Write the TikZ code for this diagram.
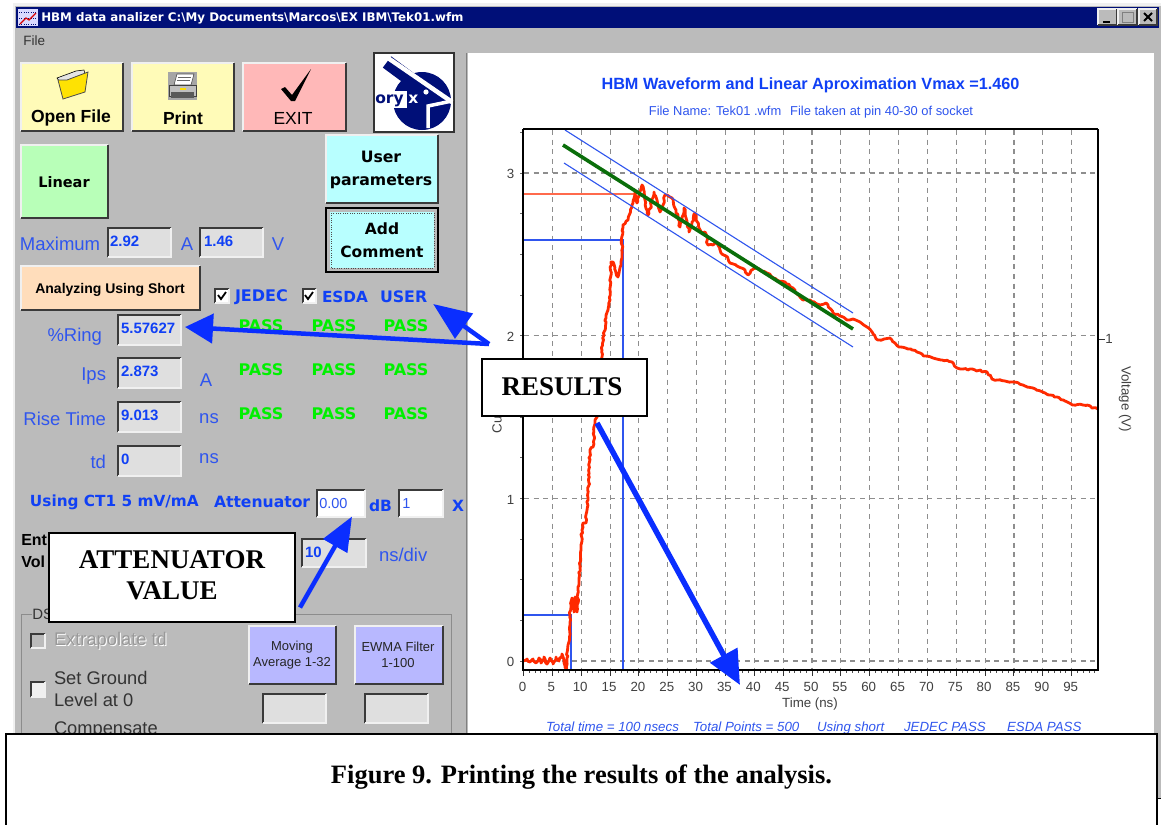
\documentclass[tikz,border=0pt]{standalone}
\usepackage{fontspec}
\setmainfont{Liberation Sans}
\newfontfamily\serifb{Liberation Serif}
\newfontfamily\wide{DejaVu Sans}
\usetikzlibrary{arrows.meta,decorations.pathmorphing}
\newdimen\px \px=0.75pt
\newcommand\fpx[1]{\fontsize{\the\dimexpr#1\px\relax}{\the\dimexpr#1\px*6/5\relax}\selectfont}
\definecolor{wingray}{HTML}{BBBBBB}
\definecolor{titleblue}{HTML}{000F78}
\definecolor{cyellow}{HTML}{FFFBB8}
\definecolor{cpink}{HTML}{FFB8B8}
\definecolor{cgreen}{HTML}{B8FFB8}
\definecolor{ccyan}{HTML}{B8FFFF}
\definecolor{corange}{HTML}{FFDDBB}
\definecolor{clav}{HTML}{B8B8FF}
\definecolor{cinput}{HTML}{DFDFDF}
\definecolor{lblue}{HTML}{2F55EE}
\definecolor{vblue}{HTML}{1040F5}
\definecolor{abblue}{HTML}{0A2EFF}
\definecolor{cpass}{HTML}{00F000}
\definecolor{wred}{HTML}{FF2A00}
\definecolor{wgreen}{HTML}{0A6E0A}
\definecolor{gridc}{HTML}{8E8E8E}
\definecolor{navy}{HTML}{000F78}
\definecolor{bevd}{HTML}{3A3A3A}
\definecolor{bevl}{HTML}{F0F0F0}
\tikzset{
  panelbox/.style={inner sep=0pt,outer sep=0pt,draw=none},
  lbl/.style={inner sep=0pt,outer sep=0pt,text=lblue,font=\fpx{18.5}},
  val/.style={inner sep=0pt,outer sep=0pt,anchor=west,text=vblue,font=\bfseries\fpx{15}},
  bold/.style={inner sep=0pt,outer sep=0pt,text=black,font=\bfseries\fpx{17.5},align=center},
  passlbl/.style={inner sep=0pt,outer sep=0pt,text=cpass,font=\wide\bfseries\fpx{16}},
  headlbl/.style={inner sep=0pt,outer sep=0pt,anchor=west,text=vblue,font=\wide\bfseries\fpx{#1}},
  headlbl/.default=15.5,
  tiny/.style={inner sep=0pt,outer sep=0pt,text=black!75,font=\fpx{13.3}},
  noteb/.style={draw=black,line width=2\px,fill=white,inner sep=0pt,outer sep=0pt,align=center,font=\serifb\bfseries\fpx{27}},
  gridl/.style={draw=gridc,line width=1.1\px,dash pattern=on 5\px off 4.6\px},
  blk/.style={draw=black,line width=2.4\px},
  thinb/.style={draw=lblue,line width=1.1\px},
  bigarrow/.style={draw=abblue,fill=abblue,line width=#1\px},
  sysl/.style={inner sep=0pt,outer sep=0pt,anchor=west,text=black!80,font=\fpx{18.3}},
  footl/.style={inner sep=0pt,outer sep=0pt,anchor=base west,text=lblue,font=\itshape\fpx{13.3}},
}
\newcommand\panel[6]{\node[panelbox,fill=#6,minimum width={(#4-#2)*0.75},minimum height={(#5-#3)*0.75}] (#1) at ({(#2+#4)/2},{(#3+#5)/2}) {};}
\newcommand\raisededge[1]{%
  \draw[bevl,line width=1.6\px] (#1.south west)--(#1.north west)--(#1.north east);
  \draw[bevd,line width=1.6\px] (#1.north east)--(#1.south east)--(#1.south west);}
\newcommand\sunkenedge[1]{%
  \draw[bevd,line width=1.6\px] (#1.south west)--(#1.north west)--(#1.north east);
  \draw[bevl,line width=1.6\px] (#1.north east)--(#1.south east)--(#1.south west);}
\newcommand\rbtn[6]{\panel{#1}{#2}{#3}{#4}{#5}{#6}\raisededge{#1}}
\newcommand\sunk[6]{\panel{#1}{#2}{#3}{#4}{#5}{#6}\sunkenedge{#1}}
\begin{document}
\begin{tikzpicture}[x=0.75pt,y=-0.75pt,line join=miter]
\pgfmathsetseed{17}
\useasboundingbox (0,0) rectangle (1161,825);
\fill[white] (0,0) rectangle (1161,825);
% window
\fill[wingray] (13,3) rectangle (1161,800);
\draw[bevl,line width=2.5\px] (14,800)--(14,4.5)--(1161,4.5);
\fill[titleblue] (16,7) rectangle (1159,28);
% title icon
\fill[white!85!blue] (18,9) rectangle (38,26);
\draw[navy,densely dotted,line width=1\px] (19,12)--(37,12) (19,18)--(37,18) (19,24)--(37,24);
\draw[red!85!black,line width=1.2\px] (20,24)--(26,18)--(29,20)--(36,13);
\node[inner sep=0pt,anchor=west,text=white,font=\wide\bfseries\fpx{11.85}] (wintitle) at (41,18) {HBM data analizer C:\textbackslash My Documents\textbackslash Marcos\textbackslash EX IBM\textbackslash Tek01.wfm};
% title buttons
\rbtn{bmin}{1098}{9}{1117}{25}{wingray}
\draw[black,line width=2\px] (1103,22)--(1110,22);
\rbtn{bmax}{1118}{9}{1137}{25}{wingray}
\draw[gray,line width=1\px] (1122,12) rectangle (1133,22);
\rbtn{bclose}{1139}{9}{1157}{25}{wingray}
\draw[black,line width=2\px] (1144,13)--(1152,21) (1152,13)--(1144,21);
\node[inner sep=0pt,anchor=west,text=black!80,font=\fpx{13.5}] (menufile) at (23,41) {File};
% plot area
\draw[black!50,line width=1.2\px] (466.5,53)--(466.5,735);
\fill[white] (468,53) rectangle (1154,735);
% toolbar
\rbtn{openb}{21}{63}{123}{131}{cyellow}
\rbtn{printb}{132}{63}{234}{131}{cyellow}
\rbtn{exitb}{243}{63}{346}{131}{cpink}
\node[bold] (openl) at (71,118) {Open File};
\node[bold] (printl) at (183,118) {Print};
\node[bold,font=\fpx{17.5}] (exitl) at (293,118) {EXIT};
% folder icon
\fill[white!90!black,draw=black,line width=.6\px] (57,78)--(76,71)--(84,70)--(86,78)--(64,88)--cycle;
\fill[yellow!85!orange,draw=black!70,line width=.8\px] (58,80)--(67,80)--(88,72)--(85,92)--(63,99)--cycle;
% printer icon
\fill[black!35] (168,72) rectangle (197,100);
\fill[white,draw=black!70,line width=.6\px] (177,74)--(194,74)--(191,85)--(174,85)--cycle;
\draw[black!60,line width=.8\px] (178,77)--(191,77) (177,80)--(190,80);
\fill[black!25,draw=black!75,line width=.8\px] (169,85) rectangle (196,96);
\fill[black!65] (171,92) rectangle (194,98);
\fill[yellow!80!orange] (180,88) rectangle (186,90);
% check mark
\fill[black] (281,89)--(285,87)--(292,95)--(311,69)--(295,101)--(291,101)--cycle;
% logo
\node[panelbox,fill=white,draw=black!80,line width=1.2\px,minimum width=60,minimum height=59.25] (logo) at (414,92.5) {};
\fill[navy] (422,101) circle [radius=29];
\fill[white] (374.6,91) rectangle (407,108);
\draw[navy,line width=14\px] (387,62)--(410,79);
\draw[white,line width=4.5\px] (388,58)--(452,102);
\draw[white,line width=3.5\px] (428,128)--(428,106)--(452,101);
\fill[white] (426,92) circle [radius=2.6];
\node[inner sep=0pt,anchor=base west,text=navy,font=\wide\bfseries\fpx{15.5}] (logoa) at (375,103) {ory};
\node[inner sep=0pt,anchor=base west,text=white,font=\wide\bfseries\fpx{15.5}] (logob) at (408,103) {x};
% left buttons
\rbtn{linearb}{21}{145}{108}{218}{cgreen}
\node[bold,font=\wide\bfseries\fpx{14.5}] (linearl) at (64,182) {Linear};
\rbtn{userb}{326}{135}{438}{203}{ccyan}
\node[bold,font=\wide\bfseries\fpx{15.7}] (userl) at (381,170) {User\\[4\px]parameters};
\panel{addb}{326}{208}{438}{272}{ccyan}
\draw[wingray,line width=3\px] (328.5,210.5) rectangle (435.5,269.5);
\draw[black,line width=2\px] (addb.north west) rectangle (addb.south east);
\draw[black!70,densely dotted,line width=1\px] (331,213) rectangle (434,268);
\node[bold,font=\wide\bfseries\fpx{15.5}] (addl) at (382,240) {Add\\[4\px]Comment};
\node[lbl,anchor=west] (maxl) at (20,244) {Maximum};
\sunk{maxa}{108}{228}{171}{257}{cinput}
\node[val] (maxav) at (110,241) {2.92};
\node[lbl] (al) at (187,244) {A};
\sunk{maxv}{200}{228}{263}{257}{cinput}
\node[val] (maxvv) at (204,241) {1.46};
\node[lbl] (vl) at (278,244) {V};
\rbtn{analb}{21}{266}{200}{310}{corange}
\node[bold,font=\bfseries\fpx{14}] (anall) at (110,290) {Analyzing Using Short};
% check boxes
\sunk{cka}{215}{289}{229}{303}{white}
\draw[black,line width=1.8\px] (218,295)--(221,299)--(226,292);
\node[headlbl=16] (jedec) at (235,297) {JEDEC};
\sunk{ckb}{303}{289}{316}{303}{white}
\draw[black,line width=1.8\px] (305,295)--(308,299)--(313,292);
\node[headlbl=15.3] (esda) at (322,297) {ESDA};
\node[headlbl=15.8] (user) at (380,297) {USER};
% results table
\foreach \nm/\ya/\yb/\yc/\lb/\vl/\lx in {ring/315/345/336.5/{\%Ring}/5.57627/102, ips/358/388/376/{Ips}/2.873/106, rise/402/432/419/{Rise Time}/9.013/106, td/446/476/462/{td}/0/106}{
  \sunk{\nm}{118}{\ya}{181}{\yb}{cinput}
  \node[lbl,anchor=east] (\nm l) at (\lx,\yc) {\lb};
  \node[val] (\nm v) at (121,{\ya+13}) {\vl};
}
\node[lbl] (ua) at (206,380) {A};
\node[lbl] (uns) at (209,419) {ns};
\node[lbl] (utd) at (209,459) {ns};
\foreach \yy in {326,370,414}{
  \node[passlbl] (pa\yy) at (261,\yy) {PASS};
  \node[passlbl] (pb\yy) at (334,\yy) {PASS};
  \node[passlbl] (pc\yy) at (406,\yy) {PASS};
}
% attenuator row
\node[headlbl=15.3] (usingct) at (30,502) {Using CT1 5 mV/mA};
\node[headlbl=15.6] (attl) at (214,502) {Attenuator};
\sunk{attbox}{317}{490}{365}{517}{white}
\node[inner sep=0pt,anchor=west,text=lblue,font=\fpx{14.5}] (attv) at (319,504) {0.00};
\node[headlbl=15.5] (dbl) at (369,506) {dB};
\sunk{xbox}{399}{490}{443}{517}{white}
\node[inner sep=0pt,anchor=west,text=lblue,font=\fpx{14.5}] (xv) at (402,504) {1};
\node[headlbl=15.5] (xl) at (452,506) {X};
\node[inner sep=0pt,anchor=west,font=\bfseries\fpx{16}] (entl) at (21,540) {Ent};
\node[inner sep=0pt,anchor=west,font=\bfseries\fpx{16}] (voll) at (21,562) {Vol};
\sunk{nsbox}{302}{539}{366}{567}{cinput}
\node[val] (nsv) at (305,552) {10};
\node[lbl,anchor=west] (nsl) at (379,555) {ns/div};
% DSP group
\draw[black!45,line width=1.1\px] (21.5,740)--(21.5,614.5)--(451.5,614.5)--(451.5,740);
\node[inner sep=0pt,anchor=west,text=black!80,font=\fpx{15},fill=wingray] (dsl) at (32,614) {DS};
\sunk{ckc}{31}{634}{45}{648}{wingray}
\node[sysl,text=white] (extw) at (55,642) {Extrapolate td};
\node[sysl,text=black!40] (extl) at (54,641) {Extrapolate td};
\sunk{ckd}{31}{682}{45}{697}{bevl}
\node[sysl] (gnd1) at (54,678) {Set Ground};
\node[sysl] (gnd2) at (54,700) {Level at 0};
\node[sysl] (compl) at (54,730) {Compensate};
\rbtn{mavg}{249}{626}{336}{684}{clav}
\node[inner sep=0pt,align=center,text=black!85,font=\fpx{13}] (mavgl) at (292,655) {Moving\\[1\px]Average 1-32};
\rbtn{ewma}{355}{626}{443}{684}{clav}
\node[inner sep=0pt,align=center,text=black!85,font=\fpx{13}] (ewmal) at (398,655) {EWMA Filter\\[1\px]1-100};
\sunk{mavgb}{263}{694}{326}{723}{cinput}
\sunk{ewmab}{365}{694}{428}{723}{cinput}
% plot titles
\node[inner sep=0pt,text=vblue,font=\bfseries\fpx{16.25}] (ptitle) at (810.5,85.5) {HBM Waveform and Linear Aproximation Vmax =1.460};
\node[inner sep=0pt,text=lblue,font=\fpx{12.9}] (psub) at (811,112.5) {File Name: Tek01 .wfm\hspace{9\px}File taken at pin 40-30 of socket};
% grid
\foreach \tt in {5,10,...,95}{
  \draw[gridl] ({523.5+5.77*\tt},130)--({523.5+5.77*\tt},669);
  \node[tiny] (xl\tt) at ({522.5+5.77*\tt},687) {\tt};
}
\node[tiny] (x0) at (522.5,687) {0};
\foreach \yy/\lb in {661/0,498.7/1,335.7/2,173/3}{
  \draw[gridl] (524,\yy)--(1097,\yy);
  \node[tiny] (yl\lb) at (510.5,{\yy+1}) {\lb};
}
% axis ticks
\foreach \tt in {0,1,...,99}{\draw[black!70,line width=.8\px] ({523.5+5.77*\tt},670)--({523.5+5.77*\tt},673);}
\foreach \tt in {0,5,...,95}{\draw[black!80,line width=1\px] ({523.5+5.77*\tt},670)--({523.5+5.77*\tt},676);}
\foreach \vv in {0,1,...,13}{\draw[black!60,line width=.8\px] (523,{661-40.65*\vv})--(520,{661-40.65*\vv});}
\draw[black!80,line width=1\px] (1098,339)--(1105,339);
\node[tiny] (r1) at (1109,339) {1};
\node[tiny,rotate=-90] (voltl) at (1125,399) {Voltage (V)};
\node[tiny] (timel) at (810,704) {Time (ns)};
\node[tiny,rotate=90,anchor=west] (curl) at (497,433) {Cu};
\node[footl] (f1) at (546,731.5) {Total time = 100 nsecs};
\node[footl] (f2) at (693,731.5) {Total Points = 500};
\node[footl] (f3) at (817,731.5) {Using short};
\node[footl] (f4) at (904,731.5) {JEDEC PASS};
\node[footl] (f5) at (1007,731.5) {ESDA PASS};
% level lines
\draw[draw=wred!70!white,line width=1.2\px] (523,194)--(636,194);
\draw[thinb] (523,240)--(623,240)--(623,670);
\draw[thinb] (523,615)--(571,615)--(571,670);
% waveform
\draw[wred,line width=2.8\px,line join=round,decorate,decoration={random steps,segment length=1.9pt,amplitude=.7pt}] (523,661)--(527,659)--(530,662)--(533,659)--(536,663)--(539,658)--(541,663)--(544,657)--(547,664)--(550,658)--(553,664)--(556,657)--(559,661)--(562,654)--(564,660)--(566.5,669)--(568,645)--(569.5,640)--(570,615)--(572,598)--(574,612)--(575,597)--(577,612)--(578,590)--(579,583)--(581,550)--(582,530)--(583,523)--(586,523)--(587,510)--(589,483)--(590,450)--(593,447)--(595,423)--(597,417)--(600,375)--(602,350)--(604,335)--(606,318)--(608,310)--(610,300)--(611,262)--(613,262)--(616,273)--(618,277)--(621,265)--(622,245)--(623,225)--(628,220)--(632,205)--(635,192)--(637,203)--(642,185)--(645,200)--(648,215)--(651,205)--(654,192)--(657,200)--(660,212)--(663,205)--(665,195)--(672,198)--(676,210)--(680,227)--(684,208)--(687,222)--(689,232)--(692,222)--(695,213)--(699,228)--(702,233)--(705,232)--(708,245)--(713,245)--(717,243)--(721,253)--(726,256)--(730,263)--(737,266)--(745,270)--(748,275)--(752,270)--(757,268)--(767,273)--(777,280)--(785,282)--(793,288)--(803,300)--(810,300)--(820,305)--(826,303)--(833,313)--(840,316)--(847,320)--(853,319)--(860,322)--(867,327)--(873,334)--(878,340)--(884,339)--(890,338)--(895,343)--(900,347)--(908,349)--(917,352)--(925,356)--(933,358)--(942,360)--(952,362)--(957,368)--(963,369)--(975,370)--(987,372)--(992,379)--(997,380)--(1005,381)--(1013,382)--(1023,385)--(1033,388)--(1045,393)--(1057,397)--(1065,401)--(1073,405)--(1087,405)--(1092,408)--(1098,409);
\draw[thinb] (565,130)--(853,313);
\draw[thinb] (564,163)--(853,347);
\draw[wgreen,line width=3.6\px] (563,145)--(853,329);
% axes
\draw[black,line width=1.2\px] (523,129)--(1098,129);
\draw[blk] (523,129)--(523,670)--(1098,670)--(1098,129);
% callouts
\node[noteb,minimum width=123.75,minimum height=42.75] (results) at (564.5,387.5) {\hspace*{-5\px}\raisebox{2.5\px}{RESULTS}};
\node[noteb,minimum width=184.5,minimum height=66.75] (attnote) at (172,577.5) {\raisebox{3\px}{\begin{tabular}{@{}c@{}}ATTENUATOR\\[-2\px]VALUE\end{tabular}}};
\draw[bigarrow=4.5,-{Triangle[length=21pt,width=21.75pt]}] ([shift={(7,-15)}]results.north west) -- ([shift={(4,-3)}]ring.east);
\draw[bigarrow=4.5,-{Triangle[length=28.5pt,width=22.5pt]}] ([shift={(7,-15)}]results.north west) -- ([shift={(6,1)}]user.south east);
\draw[bigarrow=5.5,-{Triangle[length=25.5pt,width=22.5pt]}] ([shift={(115,7)}]results.south west) -- (740,685);
\draw[bigarrow=4.5,-{Triangle[length=25.5pt,width=20.25pt]}] ([shift={(5,30)}]attnote.east) -- ([shift={(-13,-0.5)}]attbox.south east);
% caption
\node[draw=black,line width=2\px,fill=white,inner sep=0pt,outer sep=0pt,minimum width={1151*0.75},minimum height={100*0.75}] (capbox) at (581.5,784) {};
\node[inner sep=0pt,font=\serifb\bfseries\fpx{26.5}] (cap) at (581.5,777) {Figure 9. Printing the results of the analysis.};
\draw[black,line width=1\px] (1157,798.5)--(1161,798.5);
\fill[white] (1158,799) rectangle (1161,825);
\end{tikzpicture}
\end{document}
